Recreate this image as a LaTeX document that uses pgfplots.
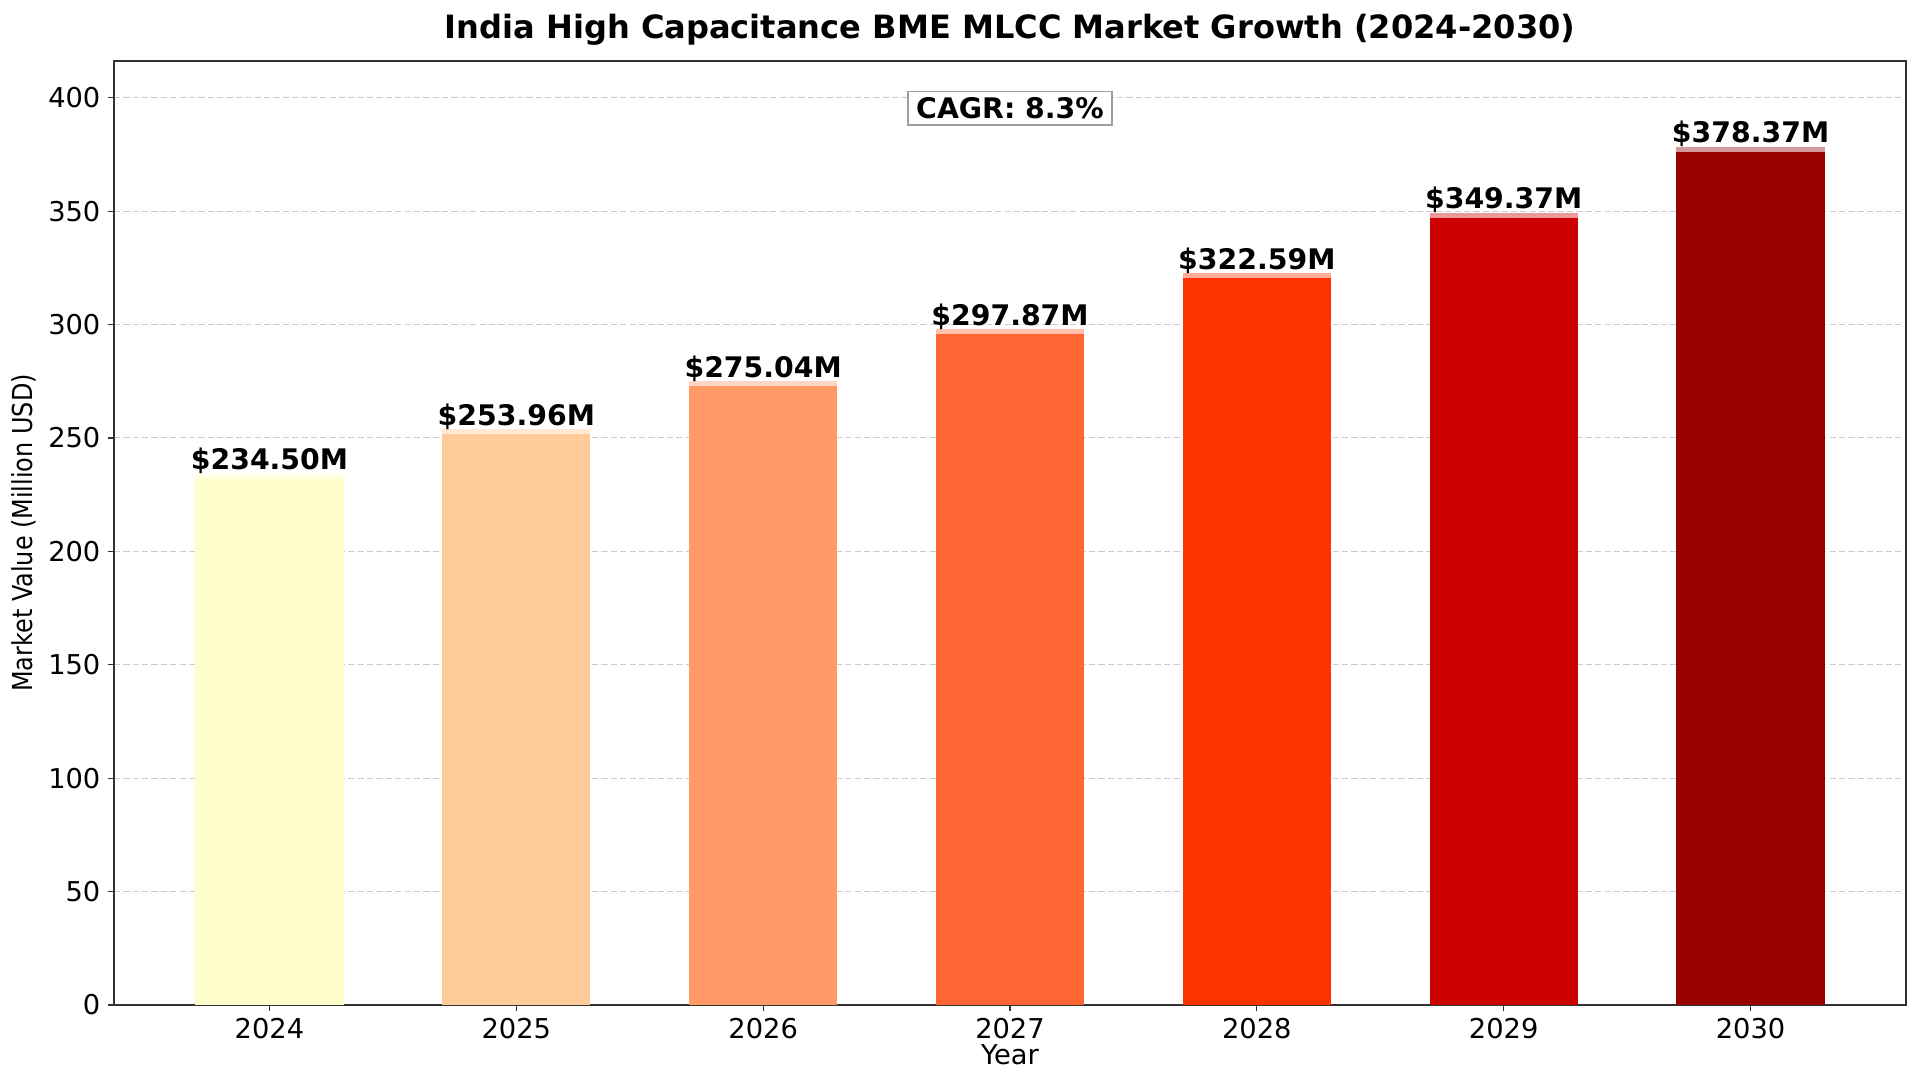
\documentclass[border=0pt]{standalone}
\usepackage{fontspec}
\usepackage{pgfplots}
\pgfplotsset{compat=1.18}
\setmainfont{DejaVu Sans}
\newfontfamily\narrowfont{DejaVu Sans}[FakeStretch=0.87]

\definecolor{c24}{HTML}{FFFFCC}
\definecolor{c25}{HTML}{FFCC99}
\definecolor{c26}{HTML}{FF9966}
\definecolor{c27}{HTML}{FF6633}
\definecolor{c28}{HTML}{FF3300}
\definecolor{c29}{HTML}{CC0000}
\definecolor{c30}{HTML}{990000}

\newcommand{\tickfont}{\fontsize{13.1}{15.5}\selectfont}
\newcommand{\valfont}{\bfseries\fontsize{13.6}{16}\selectfont}

\pgfplotsset{
  valbar/.style={
    ybar, bar width=0.6, bar shift=0pt, draw=none, fill=#1,
    nodes near coords={\$\pgfmathprintnumber[fixed,fixed zerofill,precision=2,assume math mode=true]{\pgfplotspointmeta}M},
    nodes near coords style={font=\valfont, text=black, anchor=base, inner sep=0pt, yshift=1.9pt},
  },
  topstrip/.style={white, opacity=0.6, line width=2.4pt, forget plot, line cap=butt},
}

\begin{document}
\begin{tikzpicture}
\useasboundingbox (-54.7pt,-36pt) rectangle (866.9pt,482.4pt);
\begin{axis}[
  at={(0,0)}, anchor=south west,
  scale only axis, width=860.2pt, height=453.1pt,
  xmin=-0.63, xmax=6.63, ymin=0, ymax=416.2,
  xtick={0,1,2,3,4,5,6},
  xticklabels={2024,2025,2026,2027,2028,2029,2030},
  ytick={0,50,100,150,200,250,300,350,400},
  /pgf/number format/assume math mode=true,
  tick label style={font=\tickfont},
  tick pos=left, tick align=outside,
  major tick length=3pt,
  tick style={black!80, line width=0.6pt},
  axis line style={black!80, line width=0.7pt},
  ymajorgrids,
  major grid style={gray!40, line width=0.5pt, dash pattern=on 3pt off 1.5pt},
  title={India High Capacitance BME MLCC Market Growth (2024-2030)},
  title style={font=\bfseries\fontsize{15.4}{18}\selectfont, at={(0.5,1)}, anchor=base, yshift=5pt},
  xlabel={Year},
  xlabel style={font=\tickfont, at={(axis description cs:0.5,0)}, anchor=base, yshift=-28.6pt},
  ylabel={\narrowfont Market Value (Million USD)},
  ylabel style={font=\fontsize{13.2}{15}\selectfont, at={(axis description cs:-0.05,0.5)}, anchor=center},
  clip=false,
]
% bars, one per year
\addplot[valbar=c24] coordinates {(0,234.50)};
\addplot[valbar=c25] coordinates {(1,253.96)};
\addplot[valbar=c26] coordinates {(2,275.04)};
\addplot[valbar=c27] coordinates {(3,297.87)};
\addplot[valbar=c28] coordinates {(4,322.59)};
\addplot[valbar=c29] coordinates {(5,349.37)};
\addplot[valbar=c30] coordinates {(6,378.37)};

% light highlight along the top of each bar
\addplot[topstrip] coordinates {(-0.3,233.40) (0.3,233.40)};
\addplot[topstrip] coordinates {(0.7,252.86) (1.3,252.86)};
\addplot[topstrip] coordinates {(1.7,273.94) (2.3,273.94)};
\addplot[topstrip] coordinates {(2.7,296.77) (3.3,296.77)};
\addplot[topstrip] coordinates {(3.7,321.49) (4.3,321.49)};
\addplot[topstrip] coordinates {(4.7,348.27) (5.3,348.27)};
\addplot[topstrip] coordinates {(5.7,377.27) (6.3,377.27)};

\node[draw=gray!75, fill=white, line width=0.7pt, font=\valfont, inner xsep=4pt, inner ysep=3pt]
  at (rel axis cs:0.5,0.95) {CAGR: 8.3\%};
\end{axis}
\end{tikzpicture}
\end{document}
